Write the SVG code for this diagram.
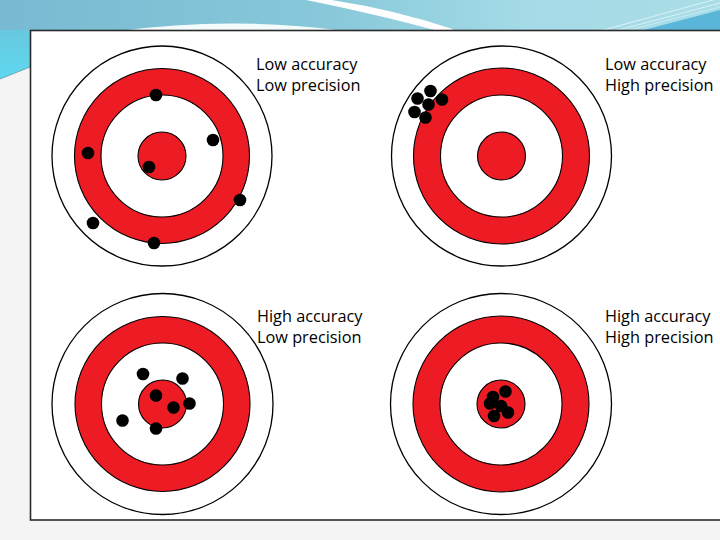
<svg xmlns="http://www.w3.org/2000/svg" width="720" height="540" viewBox="0 0 720 540">
  <defs>
    <linearGradient id="topg" x1="0" y1="0" x2="1" y2="0">
      <stop offset="0" stop-color="#78bad2"/>
      <stop offset="0.45" stop-color="#88c8da"/>
      <stop offset="0.75" stop-color="#a6dce7"/>
      <stop offset="1" stop-color="#a9dde8"/>
    </linearGradient>
    <linearGradient id="leftg" x1="0" y1="0" x2="0" y2="1">
      <stop offset="0" stop-color="#68c8e0"/>
      <stop offset="1" stop-color="#5cd8ee"/>
    </linearGradient>
    <style>
      .outer { fill: #ffffff; stroke: #000000; stroke-width: 1.3; }
      .ring { fill: #ed1c24; stroke: #000000; stroke-width: 1.1; }
      .inner { fill: #ffffff; stroke: #000000; stroke-width: 1.1; }
      .bull { fill: #ed1c24; stroke: #000000; stroke-width: 1.1; }
      .dot { fill: #000000; }
      .lbl { font-family: "Open Sans", "Liberation Sans", sans-serif; font-size: 16.3px; fill: #000000; }
    </style>
  </defs>

  <!-- slide background -->
  <rect x="0" y="0" width="720" height="540" fill="#f4f4f4"/>
  <path d="M0,0 H720 V30 H30 V67 L0,79 Z" fill="url(#topg)"/>
  <path d="M0,30 H30 V67 L0,79 Z" fill="url(#leftg)"/>
  <path d="M0,79 L30,67" stroke="#7aa9b8" stroke-width="1" fill="none"/>
  <!-- white arc behind the box -->
  <path d="M120,31 Q230,16 345,31 Z" fill="#f4fbfd"/>
  <!-- white swoosh -->
  <path d="M318,0 Q390,10 452,31 L438,31 Q380,15 306,0 Z" fill="#ffffff"/>
  <path d="M318,0 Q390,10 452,31" stroke="#ffffff" stroke-width="4" fill="none"/>
  <!-- top right corner accent -->
  <path d="M640,31 L720,10 V31 Z" fill="#5ab6d8"/>
  <path d="M600,31 L720,-2" stroke="#e8f6fa" stroke-width="0.8" fill="none"/>
  <path d="M615,31 L720,3" stroke="#e8f6fa" stroke-width="0.8" fill="none"/>
  <path d="M625,31 L720,7" stroke="#d0eef6" stroke-width="0.8" fill="none"/>

  <!-- content box -->
  <rect x="30.5" y="30.5" width="700" height="489.5" fill="#ffffff" stroke="#2a2a2a" stroke-width="1.6"/>

  <g id="target-low-acc-low-prec">
    <circle class="outer" cx="162" cy="156" r="110"/>
    <circle class="ring" cx="162" cy="156" r="87.5"/>
    <circle class="inner" cx="162" cy="156" r="61"/>
    <circle class="bull" cx="162" cy="156" r="24"/>
    <circle class="dot" cx="156" cy="95" r="6.3"/>
    <circle class="dot" cx="213" cy="140" r="6.3"/>
    <circle class="dot" cx="88" cy="153" r="6.3"/>
    <circle class="dot" cx="149" cy="167" r="6.3"/>
    <circle class="dot" cx="240" cy="200" r="6.3"/>
    <circle class="dot" cx="93" cy="223" r="6.3"/>
    <circle class="dot" cx="154" cy="243" r="6.3"/>
    <text class="lbl" x="256" y="70">Low accuracy</text>
    <text class="lbl" x="256" y="91">Low precision</text>
  </g>

  <g id="target-low-acc-high-prec">
    <circle class="outer" cx="501.5" cy="156" r="110"/>
    <circle class="ring" cx="501.5" cy="156" r="88"/>
    <circle class="inner" cx="501.5" cy="156" r="61"/>
    <circle class="bull" cx="501.5" cy="156" r="24"/>
    <circle class="dot" cx="430.5" cy="91" r="6.3"/>
    <circle class="dot" cx="442" cy="99.5" r="6.3"/>
    <circle class="dot" cx="417.5" cy="98.5" r="6.3"/>
    <circle class="dot" cx="428.5" cy="104.5" r="6.3"/>
    <circle class="dot" cx="414.5" cy="112" r="6.3"/>
    <circle class="dot" cx="425.5" cy="117.5" r="6.3"/>
    <text class="lbl" x="605" y="70">Low accuracy</text>
    <text class="lbl" x="605" y="91">High precision</text>
  </g>

  <g id="target-high-acc-low-prec">
    <circle class="outer" cx="162.5" cy="404" r="110.5"/>
    <circle class="ring" cx="162.5" cy="404" r="87.5"/>
    <circle class="inner" cx="162.5" cy="404" r="61"/>
    <circle class="bull" cx="162.5" cy="404" r="24"/>
    <circle class="dot" cx="143" cy="374" r="6.3"/>
    <circle class="dot" cx="182.5" cy="378.5" r="6.3"/>
    <circle class="dot" cx="156" cy="395.5" r="6.3"/>
    <circle class="dot" cx="173.5" cy="407.5" r="6.3"/>
    <circle class="dot" cx="189.5" cy="403.5" r="6.3"/>
    <circle class="dot" cx="122.5" cy="420.5" r="6.3"/>
    <circle class="dot" cx="156" cy="428.5" r="6.3"/>
    <text class="lbl" x="257" y="322">High accuracy</text>
    <text class="lbl" x="257" y="343">Low precision</text>
  </g>

  <g id="target-high-acc-high-prec">
    <circle class="outer" cx="501" cy="404" r="110.5"/>
    <circle class="ring" cx="501" cy="404" r="88"/>
    <circle class="inner" cx="501" cy="404" r="61"/>
    <circle class="bull" cx="501" cy="404" r="24"/>
    <circle class="dot" cx="505.5" cy="391.5" r="6.3"/>
    <circle class="dot" cx="493" cy="397" r="6.3"/>
    <circle class="dot" cx="490" cy="403.5" r="6.3"/>
    <circle class="dot" cx="501" cy="406" r="6.3"/>
    <circle class="dot" cx="508" cy="412.5" r="6.3"/>
    <circle class="dot" cx="494" cy="416" r="6.3"/>
    <text class="lbl" x="605" y="322">High accuracy</text>
    <text class="lbl" x="605" y="343">High precision</text>
  </g>
</svg>
